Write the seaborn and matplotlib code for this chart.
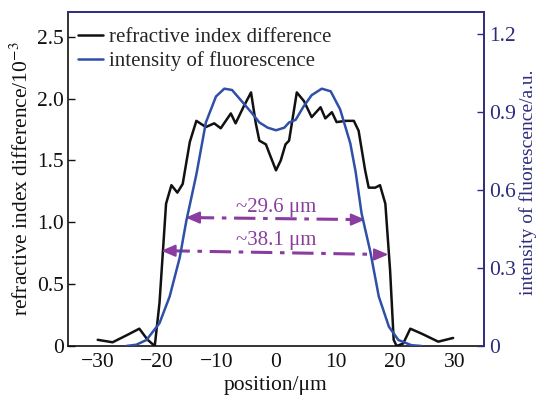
import matplotlib
matplotlib.use("Agg")
import matplotlib.pyplot as plt
import seaborn as sns
import pandas as pd

# refractive index difference (left axis, x10^-3)
ri_pos = [-30, -27.5, -25, -23, -21.6, -20.4, -19.6, -18.5, -17.6, -16.6, -15.7, -14.5,
          -13.4, -11.8, -10.4, -9.3, -7.6, -6.8, -5.5, -4.2, -3.4, -2.8, -1.7, -0.9, 0,
          0.8, 1.6, 2.2, 3.5, 4.7, 6.0, 7.5, 8.3, 9.4, 10.2, 11.7, 13.1, 13.9, 15.0,
          15.6, 16.7, 17.5, 18.4, 19.2, 19.8, 20.3, 21.4, 22.6, 24.5, 27.3, 29.8]
ri_val = [0.05, 0.03, 0.09, 0.14, 0.05, 0.0, 0.35, 1.15, 1.30, 1.24, 1.31, 1.65,
          1.82, 1.77, 1.80, 1.76, 1.88, 1.80, 1.93, 2.05, 1.80, 1.66, 1.63, 1.53, 1.42,
          1.50, 1.63, 1.66, 2.05, 1.98, 1.85, 1.93, 1.84, 1.89, 1.81, 1.82, 1.82, 1.74, 1.42,
          1.28, 1.28, 1.30, 1.15, 0.61, 0.05, 0.0, 0.02, 0.14, 0.10, 0.035, 0.065]

# intensity of fluorescence (right axis, a.u.)
fl_pos = [-25.2, -23.5, -21.8, -19.6, -17.9, -16.2, -15.1, -13.4, -11.8, -10.1, -8.7,
          -7.4, -5.7, -4.2, -2.8, -1.4, 0, 1.4, 2.2, 3.3, 4.6, 6.0, 7.7, 9.2, 10.8,
          12.5, 13.4, 14.4, 15.9, 17.3, 19.0, 20.6, 22.8, 24.5]
fl_val = [0.0, 0.005, 0.023, 0.088, 0.19, 0.34, 0.48, 0.66, 0.86, 0.96, 0.99,
          0.985, 0.94, 0.90, 0.86, 0.84, 0.83, 0.84, 0.86, 0.87, 0.92, 0.965, 0.99, 0.98, 0.91,
          0.78, 0.67, 0.51, 0.36, 0.19, 0.074, 0.023, 0.003, 0.0]

# width annotations
ann_x0 = [-15.2, -19.3]
ann_y0 = [1.038, 0.77]
ann_x1 = [15.0, 18.9]
ann_y1 = [1.022, 0.74]
ann_text = ["~29.6 μm", "~38.1 μm"]
ann_ty = [1.083, 0.815]

x_ticks = [-30, -20, -10, 0, 10, 20, 30]
left_ticks = [0, 0.5, 1.0, 1.5, 2.0, 2.5]
left_labels = ["0", "0.5", "1.0", "1.5", "2.0", "2.5"]
right_ticks = [0, 0.3, 0.6, 0.9, 1.2]
right_labels = ["0", "0.3", "0.6", "0.9", "1.2"]

sns.set_theme(style="white")
plt.rcParams["font.family"] = ["Liberation Serif", "DejaVu Serif"]
plt.rcParams["mathtext.fontset"] = "stix"

BLACK = "#111111"
BLUE = "#2f4fa8"
NAVY = "#2e2c7c"
PURPLE = "#8a3d9f"
FS = 15.5

fig = plt.figure(figsize=(5.42, 4.03), dpi=100)
ax = fig.add_axes([68/542, 1-346/403, (484-68)/542, (346-12)/403])
ax2 = ax.twinx()

df_ri = pd.DataFrame({"pos": ri_pos, "val": ri_val})
df_fl = pd.DataFrame({"pos": fl_pos, "val": fl_val})

sns.lineplot(data=df_ri, x="pos", y="val", ax=ax, color=BLACK, lw=1.8,
             label="refractive index difference", legend=False, sort=False)
sns.lineplot(data=df_fl, x="pos", y="val", ax=ax2, color=BLUE, lw=1.8,
             label="intensity of fluorescence", legend=False, sort=False)

ax.set_xlim(-35, 35)
ax.set_ylim(0, 2.7)
ax2.set_ylim(0, 1.285)

ax.set_xticks(x_ticks)
ax.set_xticklabels([str(t).replace("-", "\u2212") for t in x_ticks], fontsize=FS)
ax.set_yticks(left_ticks)
ax.set_yticklabels(left_labels, fontsize=FS)
ax2.set_yticks(right_ticks)
ax2.set_yticklabels(right_labels, fontsize=FS, color=NAVY)

ax.tick_params(axis="both", direction="in", length=5, width=1.0, colors=BLACK, pad=3)
ax.tick_params(axis="x", pad=5)
ax2.tick_params(axis="y", direction="in", length=5, width=1.0, colors=NAVY, pad=4)

ax.set_xlabel("position/μm", fontsize=FS, color=BLACK, labelpad=3)
ax.set_ylabel("refractive index difference/10$^{-3}$", fontsize=FS, color=BLACK, labelpad=3)
ax2.set_ylabel("intensity of fluorescence/a.u.", fontsize=14, color=NAVY)
ax2.yaxis.set_label_coords(1.085, 0.49)

for side in ["left", "bottom"]:
    ax.spines[side].set_color(BLACK)
    ax.spines[side].set_linewidth(1.2)
for side in ["left", "bottom"]:
    ax2.spines[side].set_visible(False)
ax2.spines["right"].set_color(NAVY)
ax2.spines["right"].set_linewidth(1.4)
ax2.spines["top"].set_color(NAVY)
ax2.spines["top"].set_linewidth(1.4)
ax.spines["top"].set_visible(False)
ax.spines["right"].set_visible(False)

# annotations
for x0, y0, x1, y1, t, ty in zip(ann_x0, ann_y0, ann_x1, ann_y1, ann_text, ann_ty):
    ax.plot([x0 + 1.2, x1 - 1.2], [y0, y1], color=PURPLE, lw=2.2,
            linestyle=(0, (7, 2.5, 1.5, 2.5)), zorder=4)
    ax.annotate("", xy=(x0, y0), xytext=(x0 + 2.0, y0),
                arrowprops=dict(arrowstyle="-|>,head_length=0.7,head_width=0.3",
                                color=PURPLE, lw=1.5, shrinkA=0, shrinkB=0), zorder=5)
    ax.annotate("", xy=(x1, y1), xytext=(x1 - 2.0, y1),
                arrowprops=dict(arrowstyle="-|>,head_length=0.7,head_width=0.3",
                                color=PURPLE, lw=1.5, shrinkA=0, shrinkB=0), zorder=5)
    ax.text(0, ty, t, color=PURPLE, fontsize=15, ha="center", va="baseline", zorder=6)

h1, l1 = ax.get_legend_handles_labels()
h2, l2 = ax2.get_legend_handles_labels()
leg = ax2.legend(h1 + h2, l1 + l2, loc="upper left", bbox_to_anchor=(0.0, 0.985),
                 frameon=False, fontsize=15, handlelength=1.2, handletextpad=0.25,
                 labelspacing=0.2, borderaxespad=0.3, borderpad=0.2)

fig.savefig("out.png", dpi=100)
